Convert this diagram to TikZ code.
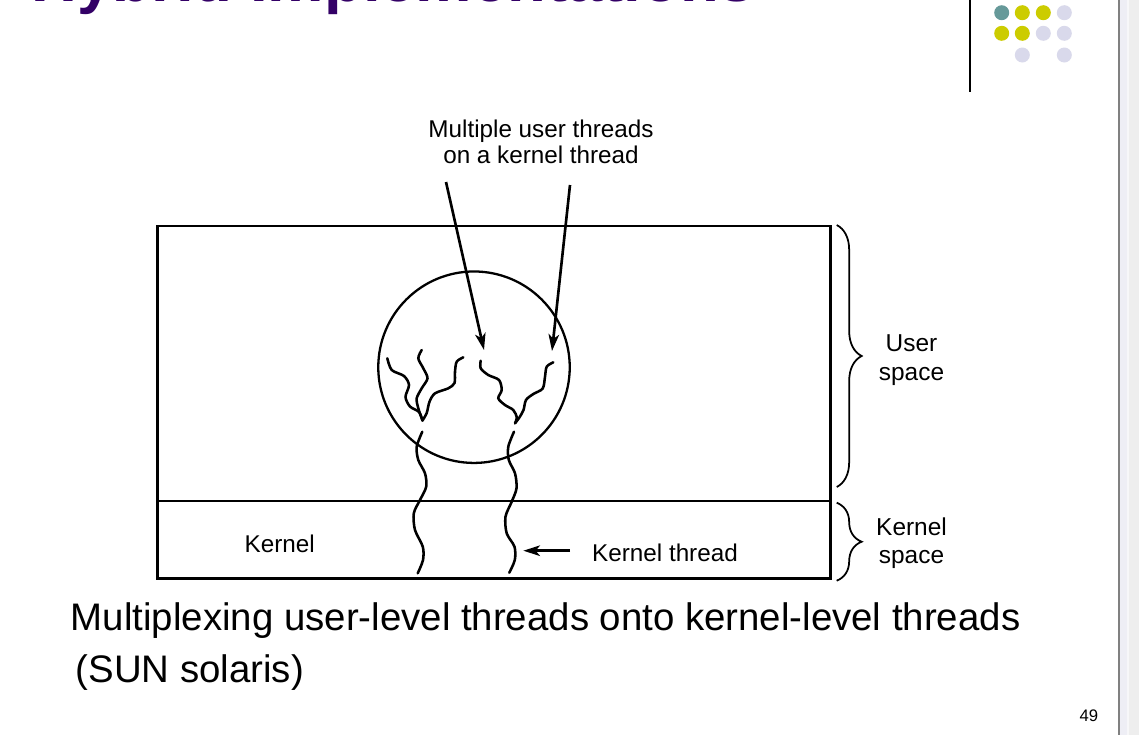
\documentclass[tikz,border=0pt]{standalone}
\usepackage{fontspec}
\setmainfont{Liberation Sans}
\usetikzlibrary{arrows.meta,decorations.pathreplacing,positioning}
\definecolor{titlepurple}{HTML}{330066}
\definecolor{dotteal}{HTML}{669999}
\definecolor{dotyellow}{HTML}{CCCC00}
\definecolor{dotlilac}{HTML}{D9D9EB}
\definecolor{stripa}{HTML}{EEEEF5}
\definecolor{stripb}{HTML}{F7F7F9}
\definecolor{stripc}{HTML}{EEEEEE}
\definecolor{stripline}{HTML}{808080}
\tikzstyle{lbl}=[inner sep=0pt, font=\fontsize{13.8pt}{15.1pt}\selectfont]
\tikzstyle{spacelbl}=[inner sep=0pt, align=center, anchor=north]
\tikzstyle{thread}=[line width=1.45pt, line cap=round]
\tikzstyle{pointer}=[->, line width=1.5pt]
\tikzstyle{bigbrace}=[decorate, decoration={brace, amplitude=14.2pt}, line width=1pt]
\tikzstyle{caption}=[inner sep=0pt, anchor=base west, font=\fontsize{21.85pt}{26pt}\selectfont]

\begin{document}
\begin{tikzpicture}[%
    x=0.02cm, y=-0.02cm,
    >={Stealth[length=9.5pt, width=6pt, inset=2.5pt]}
  ]
      \useasboundingbox (0,0) rectangle (1139,735);
      \fill[white] (0,0) rectangle (1139,735);

      %Slide frame
      \node[anchor=base west, inner sep=0pt, text=titlepurple,
            font=\bfseries\fontsize{36.1pt}{40pt}\selectfont] (title) at (31.5,1.5) {Hybrid Implementations};
      \draw[line width=1.3pt] (970,0) -- (970,92);
      \fill[dotteal]   (1001.7,12.7) circle (0.15cm);
      \fill[dotyellow] (1022.3,12.7) circle (0.15cm);
      \fill[dotyellow] (1043.3,12.7) circle (0.15cm);
      \fill[dotlilac]  (1064.3,12.7) circle (0.15cm);
      \fill[dotyellow] (1001.7,33.3) circle (0.15cm);
      \fill[dotyellow] (1022.3,33.3) circle (0.15cm);
      \fill[dotlilac]  (1043.3,33.3) circle (0.15cm);
      \fill[dotlilac]  (1064.3,33.3) circle (0.15cm);
      \fill[dotlilac]  (1022.3,55) circle (0.15cm);
      \fill[dotlilac]  (1064.3,55) circle (0.15cm);
      \fill[stripa] (1120.3,0) rectangle (1127,735);
      \fill[stripb] (1127,0) rectangle (1128.5,735);
      \fill[stripc] (1128.5,0) rectangle (1139,735);
      \draw[stripline, line width=1.1pt] (1119.3,0) -- (1119.3,735);

      %Address space
      \coordinate (boxnw) at (157.3,226.2);
      \coordinate (boxse) at (830.7,578.7);
      \coordinate (splitw) at (157.3,501.2);
      \coordinate (splite) at (830.7,501.2);
      \draw[line width=1.4pt] (boxnw) rectangle (boxse);
      \draw[line width=1.4pt] (splitw) -- (splite);

      %Thread package
      \node[draw, circle, line width=1.3pt, minimum size=3.83cm, inner sep=0pt] (pkg) at (474,367.2) {};

      %User threads
      \draw[thread] plot[smooth] coordinates {(387.3,358.3) (391.7,370) (404,376) (409,385) (405.5,397) (410,406.5) (419,412) (422.5,420.5)};
      \draw[thread] plot[smooth] coordinates {(421.7,350) (418.3,358.3) (423.3,368.3) (427.5,378.3) (421.7,388.3) (416.7,398.3) (418.3,408.3) (422.5,420.5)};
      \draw[thread] plot[smooth] coordinates {(463.3,357.3) (456.7,361.7) (455,371.7) (454.5,383) (448.3,388.3) (435,393.3) (429.5,401.7) (426.7,413) (422.5,420.5)};
      \draw[thread] plot[smooth] coordinates {(480.7,360.7) (480.7,368.3) (488.3,375) (499,380) (501.7,390) (498.3,398.3) (505,405) (513.3,410) (516.7,417.3) (515,423.3)};
      \draw[thread] plot[smooth] coordinates {(553.3,362.3) (546.7,366.7) (545,376.7) (542.7,388.5) (533.3,394) (526,400) (523.5,410) (519.5,417.3) (515,423.3)};

      %Kernel threads
      \draw[thread] plot[smooth] coordinates {(422.3,431.7) (416.7,446.7) (418.3,460) (425,473.3) (426.2,486.7) (420,500) (413.8,513.3) (415,530) (422.8,546.7) (423,560) (417.7,573.3)};
      \draw[thread] plot[smooth] coordinates {(514,431.7) (508.3,446.7) (508.8,460) (515,473.3) (516.5,488.3) (511.7,501.7) (505.5,516.7) (506.7,533.3) (514.5,546.7) (514.8,560) (509.3,572.7)};

      %Labels
      \node[lbl, align=center, anchor=north] (toplbl) at (541,119.4) {Multiple user threads\\on a kernel thread};
      \node[lbl, anchor=base] (kernellbl) at (279.7,552.7) {Kernel};
      \node[lbl, anchor=base] (kthreadlbl) at (665,561.7) {Kernel thread};
      \node[spacelbl, font=\fontsize{13.9pt}{16.3pt}\selectfont] (userlbl) at (911.5,334.8) {User\\space};
      \node[spacelbl, font=\fontsize{13.9pt}{16.1pt}\selectfont] (kspacelbl) at (911.5,517.5) {Kernel\\space};

      %Arrows
      \coordinate (tailA) at (446,182);
      \coordinate (tipA) at (484,350);
      \coordinate (tailB) at (570,185);
      \coordinate (tipB) at (552,351);
      \coordinate (tailK) at (570,550.7);
      \coordinate (tipK) at (523.3,550.7);
      \draw[pointer] (tailA) -- (tipA);
      \draw[pointer] (tailB) -- (tipB);
      \draw[pointer] (tailK) -- (tipK);

      %Braces
      \coordinate (ubtop) at (836.7,225);
      \coordinate (ubbot) at (836.7,487);
      \coordinate (kbtop) at (836.7,502.7);
      \coordinate (kbbot) at (836.7,580.7);
      \draw[bigbrace] (ubtop) -- (ubbot);
      \draw[bigbrace] (kbtop) -- (kbbot);

      %Caption
      \node[caption] (caption) at (70.5,630.7) {Multiplexing user-level threads onto kernel-level threads};
      \node[caption] (captionb) at (75.3,682.3) {(SUN solaris)};
      \node[anchor=base east, inner sep=0pt, font=\fontsize{9.5pt}{11pt}\selectfont] (pagenum) at (1098.5,721) {49};
\end{tikzpicture}
\end{document}
